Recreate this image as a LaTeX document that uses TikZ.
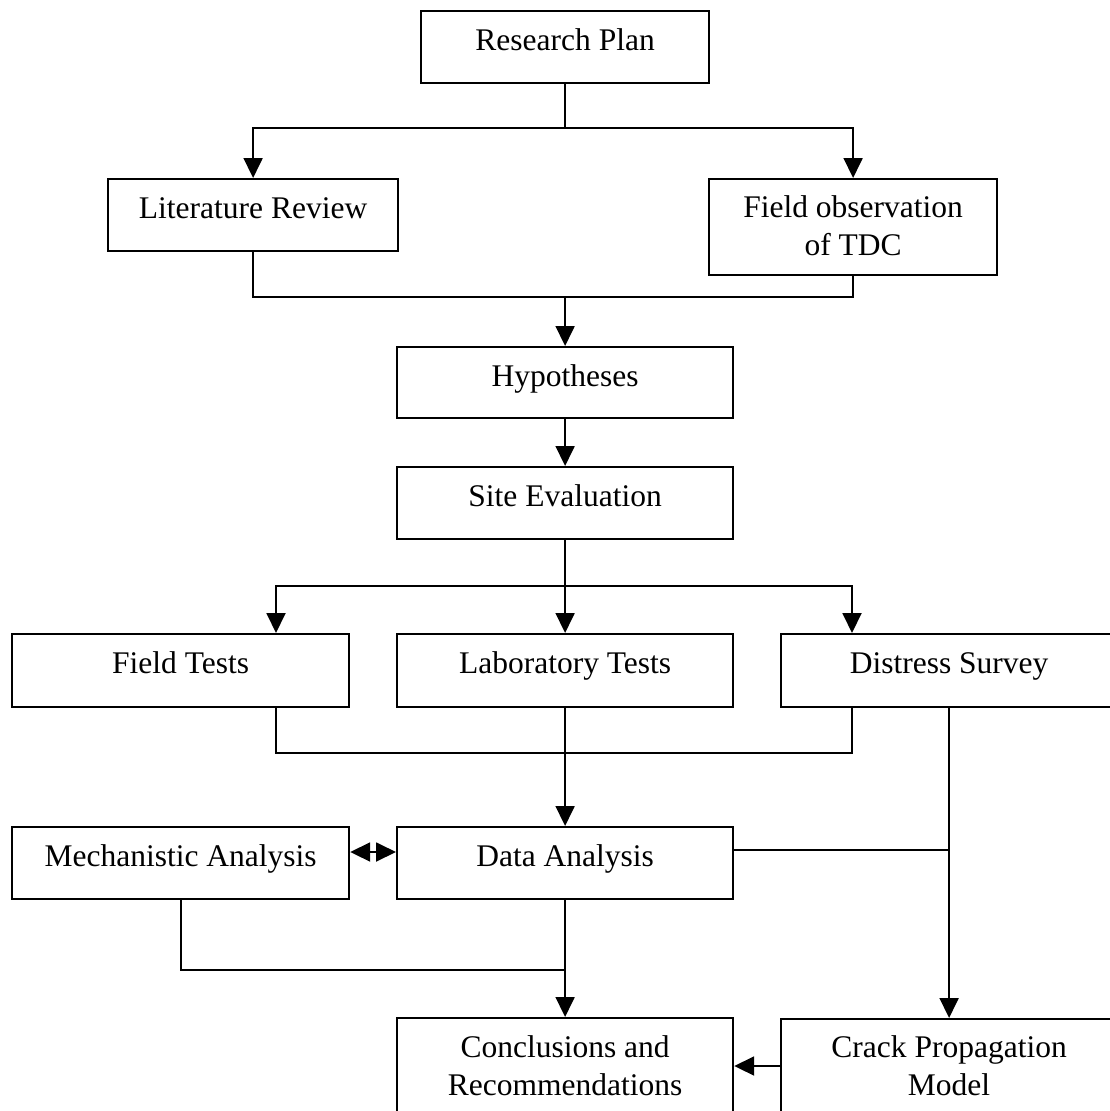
\documentclass[tikz,border=0pt]{standalone}
\usepackage{fontspec}
\setmainfont{Liberation Serif}
\usetikzlibrary{arrows.meta,calc}
\begin{document}
\begin{tikzpicture}[x=1pt,y=-1pt,
  box/.style={draw, line width=2.2pt, rectangle, inner sep=0pt, anchor=north west},
  lbl/.style={anchor=base, font=\fontsize{31.5}{38}\selectfont, inner sep=0pt},
  conn/.style={line width=1.9pt},
  arr/.style={conn, -{Triangle[length=20pt,width=19pt]}},
  dbl/.style={conn, {Triangle[length=20pt,width=19pt]}-{Triangle[length=20pt,width=19pt]}}
]
\useasboundingbox (0,0) rectangle (1109,1111);
% boxes
\node[box, minimum width=288pt, minimum height=72pt] (rp) at (420,10) {};
\node[box, minimum width=290pt, minimum height=72pt] (lr) at (107,178) {};
\node[box, minimum width=288pt, minimum height=96pt] (fo) at (708,178) {};
\node[box, minimum width=336pt, minimum height=71pt] (hy) at (396,346) {};
\node[box, minimum width=336pt, minimum height=72pt] (se) at (396,466) {};
\node[box, minimum width=337pt, minimum height=73pt] (ft) at (11,633) {};
\node[box, minimum width=336pt, minimum height=73pt] (lt) at (396,633) {};
\node[box, minimum width=336pt, minimum height=73pt] (ds) at (780,633) {};
\node[box, minimum width=337pt, minimum height=72pt] (ma) at (11,826) {};
\node[box, minimum width=336pt, minimum height=72pt] (da) at (396,826) {};
\node[box, minimum width=336pt, minimum height=96pt] (cr) at (396,1017) {};
\node[box, minimum width=336pt, minimum height=96pt] (cp) at (780,1018) {};
% labels
\node[lbl] (rpt) at ($(rp.north)+(0,40)$) {Research Plan};
\node[lbl] (lrt) at ($(lr.north)+(0,40)$) {Literature Review};
\node[lbl] (fot1) at ($(fo.north)+(0,39)$) {Field observation};
\node[lbl] (fot2) at ($(fo.north)+(0,77)$) {of TDC};
\node[lbl] (hyt) at ($(hy.north)+(0,40)$) {Hypotheses};
\node[lbl] (set) at ($(se.north)+(0,40)$) {Site Evaluation};
\node[lbl] (ftt) at ($(ft.north)+(0,40)$) {Field Tests};
\node[lbl] (ltt) at ($(lt.north)+(0,40)$) {Laboratory Tests};
\node[lbl] (dst) at ($(ds.north)+(0,40)$) {Distress Survey};
\node[lbl] (mat) at ($(ma.north)+(0,40)$) {Mechanistic Analysis};
\node[lbl] (dat) at ($(da.north)+(0,40)$) {Data Analysis};
\node[lbl] (crt1) at ($(cr.north)+(0,40)$) {Conclusions and};
\node[lbl] (crt2) at ($(cr.north)+(0,78)$) {Recommendations};
\node[lbl] (cpt1) at ($(cp.north)+(0,39)$) {Crack Propagation};
\node[lbl] (cpt2) at ($(cp.north)+(0,77)$) {Model};
% junctions
\coordinate (j1) at (rp.south |- {(0,128)});
\coordinate (j2) at (rp.south |- {(0,297)});
\coordinate (j3) at (rp.south |- {(0,586)});
\coordinate (j4) at (rp.south |- {(0,753)});
\coordinate (j6) at (rp.south |- {(0,970)});
\coordinate (ftin) at ($(ft.north west)+(265,0)$);
\coordinate (ftout) at ($(ft.south west)+(265,0)$);
\coordinate (dsin) at ($(ds.north west)+(72,0)$);
\coordinate (dsout) at ($(ds.south west)+(72,0)$);
\coordinate (daR) at ($(da.north east)+(0,24)$);
% connectors
\draw[conn] (rp.south) -- (j1);
\draw[arr] (j1) -| (lr.north);
\draw[arr] (j1) -| (fo.north);
\draw[conn] (lr.south) |- (j2) -| (fo.south);
\draw[arr] (j2) -- (hy.north);
\draw[arr] (hy.south) -- (se.north);
\draw[conn] (se.south) -- (j3);
\draw[arr] (j3) -| (ftin);
\draw[arr] (j3) -- (lt.north);
\draw[arr] (j3) -| (dsin);
\draw[conn] (ftout) |- (j4) -| (dsout);
\draw[arr] (lt.south) -- (da.north);
\draw[conn] (daR) -- (daR -| ds.south);
\draw[arr] (ds.south) -- (cp.north);
\draw[dbl] ($(ma.north east)+(0,26)$) -- ($(da.north west)+(0,26)$);
\draw[conn] (ma.south) |- (j6);
\draw[arr] (da.south) -- (cr.north);
\draw[arr] ($(cp.north west)+(0,48)$) -- ($(cr.north east)+(0,49)$);
\end{tikzpicture}
\end{document}
